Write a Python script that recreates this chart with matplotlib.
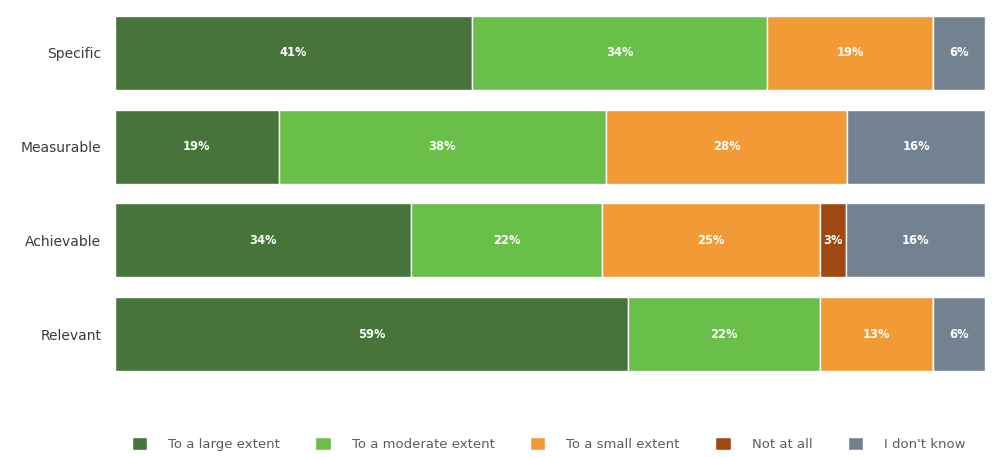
import matplotlib.pyplot as plt
import numpy as np

plt.rcParams['font.family'] = ['DejaVu Sans']

categories = ['Specific', 'Measurable', 'Achievable', 'Relevant']
responses = ['To a large extent', 'To a moderate extent', 'To a small extent',
             'Not at all', "I don't know"]
large = [41, 19, 34, 59]
moderate = [34, 38, 22, 22]
small = [19, 28, 25, 13]
not_at_all = [0, 0, 3, 0]
dont_know = [6, 16, 16, 6]

colors = ['#46743a', '#6abf4b', '#f29a35', '#a04812', '#738290']

series = np.array([large, moderate, small, not_at_all, dont_know], dtype=float)
# scale every row to 100% so the bars fill the axis
shares = series / series.sum(axis=0) * 100

fig = plt.figure(figsize=(10.03, 4.57), dpi=100)
ax = fig.add_axes([0.1147, 0.166, 0.8673, 0.821])

y = np.arange(len(categories))
left = np.zeros(len(categories))
for i, name in enumerate(responses):
    bars = ax.barh(y, shares[i], left=left, height=0.79, color=colors[i],
                   edgecolor='white', linewidth=1, label=name)
    for j, b in enumerate(bars):
        v = series[i][j]
        if v > 0:
            ax.text(left[j] + shares[i][j] / 2, y[j], '%d%%' % v,
                    ha='center', va='center', color='white',
                    fontsize=8.3, fontweight='bold')
    left += shares[i]

ax.set_xlim(0, 100)
ax.set_ylim(3.5, -0.5)
ax.set_yticks(y)
ax.set_yticklabels(categories, fontsize=10, color='#3a3a3a')
ax.tick_params(axis='y', length=0, pad=10)
ax.set_xticks([])
for s in ax.spines.values():
    s.set_visible(False)

fig.legend(loc='center', bbox_to_anchor=(0.547, 0.028), ncol=5,
           frameon=False, fontsize=9.5, handlelength=1.15, handleheight=1.15,
           handletextpad=1.6, columnspacing=2.7, labelcolor='#5c5c5c')

fig.savefig('out.png', dpi=100)
